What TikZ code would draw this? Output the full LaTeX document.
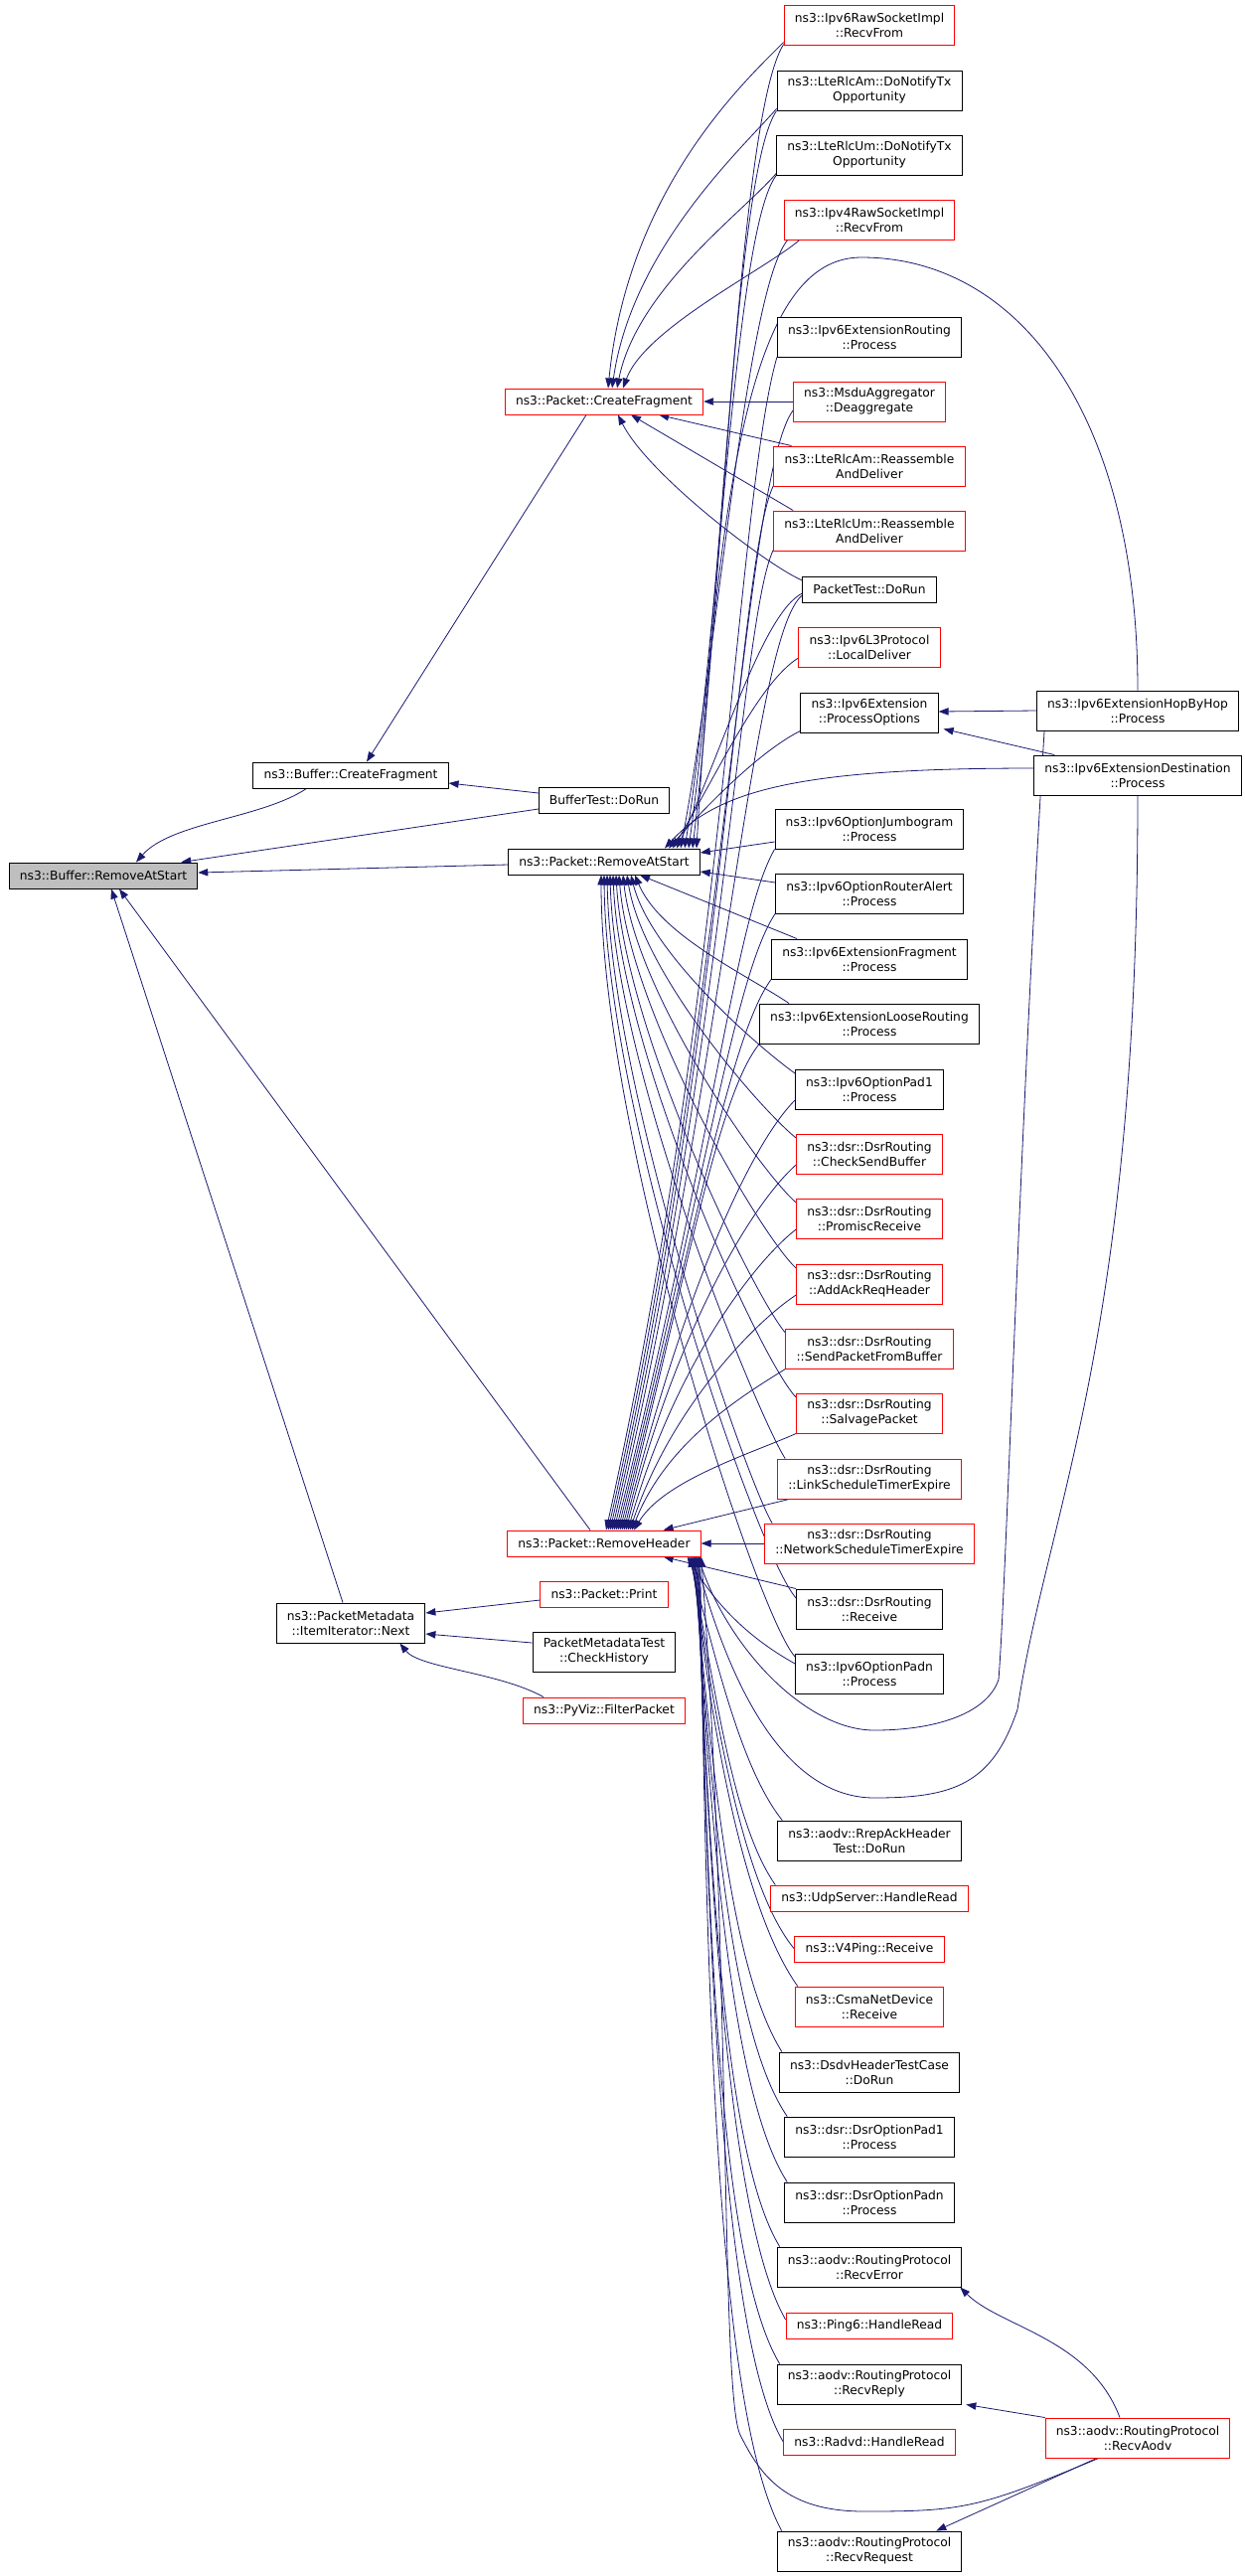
\documentclass[tikz,border=0pt]{standalone}
\usepackage{fontspec}
\setmainfont{DejaVu Sans}
\usepackage{xcolor}
\usetikzlibrary{calc,arrows.meta}

\definecolor{edgeblue}{HTML}{191970}
\definecolor{rootgrey}{HTML}{BFBFBF}

\pgfdeclarelayer{background}
\pgfsetlayers{background,main}

\tikzset{
  fn/.style={draw=black, fill=white, rectangle, align=center, line width=0.7pt,
    font=\fontsize{9.2}{11.3}\selectfont, inner xsep=8pt, inner ysep=0pt, minimum height=19.5pt},
  fntwo/.style={fn, minimum height=30pt},
  fnred/.style={draw=red},
  fnroot/.style={fill=rootgrey},
  call/.style={draw=edgeblue, line width=0.6pt, -{Triangle[length=7.5pt,width=5.5pt]}}
}

\begin{document}
\begin{tikzpicture}[x=0.75pt,y=-0.75pt]
        \useasboundingbox (0,0) rectangle (1253,2592);

        % left and middle
        \node[fn,fnroot] (bufRAS) at (104,881) {ns3::Buffer::RemoveAtStart};
        \node[fn] (bufCF) at (353,780) {ns3::Buffer::CreateFragment};
        \node[fntwo] (itemNext) at (353,1633) {ns3::PacketMetadata\\::ItemIterator::Next};
        \node[fn,fnred] (pktCF) at (608,404) {ns3::Packet::CreateFragment};
        \node[fn] (bufTest) at (608,805) {BufferTest::DoRun};
        \node[fn] (pktRAS) at (608,867) {ns3::Packet::RemoveAtStart};
        \node[fn,fnred] (pktRH) at (608,1553) {ns3::Packet::RemoveHeader};
        \node[fn,fnred] (pktPrint) at (608,1604) {ns3::Packet::Print};
        \node[fntwo] (metaTest) at (608,1662) {PacketMetadataTest\\::CheckHistory};
        \node[fn,fnred] (pyviz) at (608,1721) {ns3::PyViz::FilterPacket};

        % right column
        \node[fntwo,fnred] (raw6) at (875,25) {ns3::Ipv6RawSocketImpl\\::RecvFrom};
        \node[fntwo] (amNotify) at (875,91) {ns3::LteRlcAm::DoNotifyTx\\Opportunity};
        \node[fntwo] (umNotify) at (875,156) {ns3::LteRlcUm::DoNotifyTx\\Opportunity};
        \node[fntwo,fnred] (raw4) at (875,221) {ns3::Ipv4RawSocketImpl\\::RecvFrom};
        \node[fntwo] (extRouting) at (875,339) {ns3::Ipv6ExtensionRouting\\::Process};
        \node[fntwo,fnred] (msdu) at (875,404) {ns3::MsduAggregator\\::Deaggregate};
        \node[fntwo,fnred] (amReasm) at (875,469) {ns3::LteRlcAm::Reassemble\\AndDeliver};
        \node[fntwo,fnred] (umReasm) at (875,534) {ns3::LteRlcUm::Reassemble\\AndDeliver};
        \node[fn] (pktTest) at (875,593) {PacketTest::DoRun};
        \node[fntwo,fnred] (localDeliver) at (875,651) {ns3::Ipv6L3Protocol\\::LocalDeliver};
        \node[fntwo] (procOpt) at (875,717) {ns3::Ipv6Extension\\::ProcessOptions};
        \node[fntwo] (jumbo) at (875,834) {ns3::Ipv6OptionJumbogram\\::Process};
        \node[fntwo] (routerAlert) at (875,899) {ns3::Ipv6OptionRouterAlert\\::Process};
        \node[fntwo] (extFrag) at (875,965) {ns3::Ipv6ExtensionFragment\\::Process};
        \node[fntwo] (looseRouting) at (875,1030) {ns3::Ipv6ExtensionLooseRouting\\::Process};
        \node[fntwo] (pad1) at (875,1096) {ns3::Ipv6OptionPad1\\::Process};
        \node[fntwo,fnred] (checkSend) at (875,1161) {ns3::dsr::DsrRouting\\::CheckSendBuffer};
        \node[fntwo,fnred] (promisc) at (875,1226) {ns3::dsr::DsrRouting\\::PromiscReceive};
        \node[fntwo,fnred] (addAck) at (875,1292) {ns3::dsr::DsrRouting\\::AddAckReqHeader};
        \node[fntwo,fnred] (sendFromBuf) at (875,1357) {ns3::dsr::DsrRouting\\::SendPacketFromBuffer};
        \node[fntwo,fnred] (salvage) at (875,1422) {ns3::dsr::DsrRouting\\::SalvagePacket};
        \node[fntwo,fnred] (linkTimer) at (875,1488) {ns3::dsr::DsrRouting\\::LinkScheduleTimerExpire};
        \node[fntwo,fnred] (netTimer) at (875,1553) {ns3::dsr::DsrRouting\\::NetworkScheduleTimerExpire};
        \node[fntwo] (dsrRecv) at (875,1619) {ns3::dsr::DsrRouting\\::Receive};
        \node[fntwo] (padn) at (875,1684) {ns3::Ipv6OptionPadn\\::Process};
        \node[fntwo] (rrepAck) at (875,1852) {ns3::aodv::RrepAckHeader\\Test::DoRun};
        \node[fn,fnred] (udpServer) at (875,1910) {ns3::UdpServer::HandleRead};
        \node[fn,fnred] (v4ping) at (875,1961) {ns3::V4Ping::Receive};
        \node[fntwo,fnred] (csma) at (875,2019) {ns3::CsmaNetDevice\\::Receive};
        \node[fntwo] (dsdv) at (875,2085) {ns3::DsdvHeaderTestCase\\::DoRun};
        \node[fntwo] (dsrPad1) at (875,2150) {ns3::dsr::DsrOptionPad1\\::Process};
        \node[fntwo] (dsrPadn) at (875,2216) {ns3::dsr::DsrOptionPadn\\::Process};
        \node[fntwo] (recvError) at (875,2281) {ns3::aodv::RoutingProtocol\\::RecvError};
        \node[fn,fnred] (ping6) at (875,2340) {ns3::Ping6::HandleRead};
        \node[fntwo] (recvReply) at (875,2399) {ns3::aodv::RoutingProtocol\\::RecvReply};
        \node[fn,fnred] (radvd) at (875,2457) {ns3::Radvd::HandleRead};
        \node[fntwo] (recvRequest) at (875,2567) {ns3::aodv::RoutingProtocol\\::RecvRequest};

        % far right
        \node[fntwo] (hopByHop) at (1145,715) {ns3::Ipv6ExtensionHopByHop\\::Process};
        \node[fntwo] (destination) at (1145,780) {ns3::Ipv6ExtensionDestination\\::Process};
        \node[fntwo,fnred] (recvAodv) at (1145,2453) {ns3::aodv::RoutingProtocol\\::RecvAodv};

        \begin{pgfonlayer}{background}
        % into the buffer
        \draw[call] ($(bufCF.south west)+(54,0)$) .. controls +(-45,30) and +(35,-40) .. ($(bufRAS.north)+(33,0)$);
        \draw[call] ($(bufTest.west)+(0,9)$) -- ($(bufRAS.north east)+(-17,0)$);
        \draw[call] ($(bufTest.west)+(0,-7)$) -- ($(bufCF.east)+(0,8)$);
        \draw[call] ($(pktRAS.west)+(0,3)$) -- ($(bufRAS.east)+(0,-3)$);
        \draw[call] ($(pktCF.south)+(-18,0)$) -- ($(bufCF.north)+(16,0)$);
        \draw[call] ($(pktRH.north)+(-14,0)$) -- ($(bufRAS.south)+(16,0)$);
        \draw[call] ($(itemNext.north)+(-8,0)$) -- ($(bufRAS.south)+(8,0)$);
        \draw[call] ($(pktPrint.west)+(0,6)$) -- ($(itemNext.east)+(0,-10)$);
        \draw[call] ($(metaTest.west)+(0,-9)$) -- ($(itemNext.east)+(0,11)$);
        \draw[call] ($(pyviz.north west)+(21,0)$) .. controls +(-45,-25) and +(20,25) .. ($(itemNext.south east)+(-26,0)$);

        % into Packet::CreateFragment
        \draw[call] ($(raw6.south west)+(0,-3)$) .. controls +(-40,40) and +(20,-200) .. ($(pktCF.north)+(4,0)$);
        \draw[call] ($(amNotify.south west)+(0,-2)$) .. controls +(-35,40) and +(20,-140) .. ($(pktCF.north)+(8,0)$);
        \draw[call] ($(umNotify.south west)+(0,-2)$) .. controls +(-32,38) and +(20,-100) .. ($(pktCF.north)+(13,0)$);
        \draw[call] ($(raw4.south west)+(16,0)$) .. controls +(-35,30) and +(22,-60) .. ($(pktCF.north)+(19,0)$);
        \draw[call] (msdu.west) -- (pktCF.east);
        \draw[call] ($(amReasm.north west)+(18,0)$) -- ($(pktCF.south east)+(-45,0)$);
        \draw[call] ($(umReasm.north west)+(20,0)$) -- ($(pktCF.south)+(27,0)$);
        \draw[call] ($(pktTest.west)+(0,-9)$) .. controls +(-35,-15) and +(30,60) .. ($(pktCF.south)+(14,0)$);

        % into Packet::RemoveAtStart from above
        \draw[call] ($(raw6.south west)+(0,-1)$) .. controls +(-45,70) and +(30,-255) .. ($(pktRAS.north)+(89,0)$);
        \draw[call] (amNotify.south west) .. controls +(-42,60) and +(33,-235) .. ($(pktRAS.north)+(85,0)$);
        \draw[call] (umNotify.south west) .. controls +(-42,55) and +(35,-215) .. ($(pktRAS.north)+(81,0)$);
        \draw[call] ($(raw4.south west)+(4,0)$) .. controls +(-42,50) and +(37,-195) .. ($(pktRAS.north)+(77,0)$);
        \draw[call] ($(pktTest.west)+(0,4)$) .. controls +(-40,20) and +(45,-95) .. ($(pktRAS.north)+(73,0)$);
        \draw[call] ($(localDeliver.west)+(0,11)$) .. controls +(-40,25) and +(45,-75) .. ($(pktRAS.north)+(69,0)$);
        \draw[call] ($(procOpt.south west)+(0,-2)$) .. controls +(-40,20) and +(40,-45) .. ($(pktRAS.north)+(65,0)$);
        \draw[call] (hopByHop.north) .. controls +(0,-275) and +(160,0) .. (867,259) .. controls +(-95,0) and +(25,-435) .. ($(pktRAS.north)+(93,0)$);
        \draw[call] ($(destination.west)+(0,-7)$) .. controls +(-230,0) and +(55,-60) .. ($(pktRAS.north)+(61,0)$);
        \draw[call] ($(jumbo.west)+(0,13)$) -- ($(pktRAS.east)+(0,-9)$);
        \draw[call] ($(routerAlert.west)+(0,-11)$) -- ($(pktRAS.east)+(0,10)$);

        % into Packet::RemoveAtStart from below
        \draw[call] ($(extFrag.north west)+(26,0)$) -- ($(pktRAS.south)+(36,0)$);
        \draw[call] ($(looseRouting.north west)+(30,0)$) .. controls +(-45,-30) and +(25,60) .. ($(pktRAS.south)+(31,0)$);
        \draw[call] ($(pad1.west)+(0,-16)$) .. controls +(-35,-25) and +(20,80) .. ($(pktRAS.south)+(27,0)$);
        \draw[call] ($(checkSend.west)+(0,-16)$) .. controls +(-35,-28) and +(16,100) .. ($(pktRAS.south)+(23,0)$);
        \draw[call] ($(promisc.west)+(0,-16)$) .. controls +(-35,-30) and +(13,120) .. ($(pktRAS.south)+(19,0)$);
        \draw[call] ($(addAck.west)+(0,-16)$) .. controls +(-35,-32) and +(11,140) .. ($(pktRAS.south)+(15,0)$);
        \draw[call] ($(sendFromBuf.west)+(0,-16)$) .. controls +(-30,-34) and +(9,160) .. ($(pktRAS.south)+(12,0)$);
        \draw[call] ($(salvage.west)+(0,-16)$) .. controls +(-35,-36) and +(7,180) .. ($(pktRAS.south)+(9,0)$);
        \draw[call] ($(linkTimer.north west)+(8,0)$) .. controls +(-25,-38) and +(5,200) .. ($(pktRAS.south)+(6,0)$);
        \draw[call] ($(netTimer.north west)+(8,0)$) .. controls +(-25,-40) and +(4,220) .. ($(pktRAS.south)+(3,0)$);
        \draw[call] ($(dsrRecv.west)+(0,-11)$) .. controls +(-40,-45) and +(2,240) .. (pktRAS.south);
        \draw[call] ($(padn.west)+(0,-17)$) .. controls +(-40,-45) and +(0,260) .. ($(pktRAS.south)+(-3,0)$);

        % into Packet::RemoveHeader from above
        \draw[call] (extRouting.south west) .. controls +(-40,140) and +(120,-540) .. ($(pktRH.north)+(2,0)$);
        \draw[call] ($(msdu.west)+(0,9)$) .. controls +(-50,70) and +(118,-520) .. ($(pktRH.north)+(4,0)$);
        \draw[call] ($(amReasm.south west)+(0,-1)$) .. controls +(-35,70) and +(115,-500) .. ($(pktRH.north)+(6,0)$);
        \draw[call] ($(umReasm.south west)+(0,-1)$) .. controls +(-33,70) and +(112,-480) .. ($(pktRH.north)+(8,0)$);
        \draw[call] ($(pktTest.west)+(0,6)$) .. controls +(-50,40) and +(110,-460) .. ($(pktRH.north)+(10,0)$);
        \draw[call] (jumbo.south west) .. controls +(-40,70) and +(100,-400) .. ($(pktRH.north)+(12,0)$);
        \draw[call] (routerAlert.south west) .. controls +(-40,60) and +(90,-360) .. ($(pktRH.north)+(14,0)$);
        \draw[call] (extFrag.south west) .. controls +(-40,55) and +(80,-320) .. ($(pktRH.north)+(16,0)$);
        \draw[call] (looseRouting.south west) .. controls +(-40,50) and +(70,-280) .. ($(pktRH.north)+(18,0)$);
        \draw[call] ($(pad1.west)+(0,11)$) .. controls +(-45,45) and +(60,-240) .. ($(pktRH.north)+(20,0)$);
        \draw[call] ($(checkSend.west)+(0,11)$) .. controls +(-45,40) and +(50,-200) .. ($(pktRH.north)+(22,0)$);
        \draw[call] ($(promisc.west)+(0,11)$) .. controls +(-45,35) and +(45,-160) .. ($(pktRH.north)+(24,0)$);
        \draw[call] ($(addAck.west)+(0,11)$) .. controls +(-45,30) and +(40,-120) .. ($(pktRH.north)+(26,0)$);
        \draw[call] (sendFromBuf.south west) .. controls +(-40,25) and +(35,-90) .. ($(pktRH.north)+(28,0)$);
        \draw[call] (salvage.south west) .. controls +(-45,20) and +(30,-50) .. ($(pktRH.north)+(30,0)$);
        \draw[call] ($(linkTimer.south west)+(12,0)$) -- ($(pktRH.north east)+(-38,0)$);
        \draw[call] (netTimer.west) -- (pktRH.east);

        % into Packet::RemoveHeader from below
        \draw[call] (dsrRecv.north west) -- ($(pktRH.south east)+(-38,0)$);
        \draw[call] ($(padn.west)+(0,-10)$) .. controls +(-45,-25) and +(30,50) .. ($(pktRH.south east)+(-14,0)$);
        \draw[call] ($(rrepAck.north west)+(5,0)$) .. controls +(-40,-50) and +(28,110) .. ($(pktRH.south east)+(-12,0)$);
        \draw[call] ($(udpServer.north west)+(5,0)$) .. controls +(-42,-60) and +(26,140) .. ($(pktRH.south east)+(-11,0)$);
        \draw[call] (v4ping.west) .. controls +(-50,-60) and +(24,170) .. ($(pktRH.south east)+(-10,0)$);
        \draw[call] ($(csma.north west)+(3,0)$) .. controls +(-50,-70) and +(22,200) .. ($(pktRH.south east)+(-9,0)$);
        \draw[call] ($(dsdv.north west)+(3,0)$) .. controls +(-50,-80) and +(20,230) .. ($(pktRH.south east)+(-8,0)$);
        \draw[call] ($(dsrPad1.north west)+(3,0)$) .. controls +(-55,-80) and +(18,260) .. ($(pktRH.south east)+(-7,0)$);
        \draw[call] ($(dsrPadn.north west)+(3,0)$) .. controls +(-55,-85) and +(16,290) .. ($(pktRH.south east)+(-6,0)$);
        \draw[call] ($(recvError.north west)+(3,0)$) .. controls +(-55,-90) and +(14,320) .. ($(pktRH.south east)+(-5,0)$);
        \draw[call] ($(ping6.west)+(0,-6)$) .. controls +(-55,-95) and +(12,350) .. ($(pktRH.south east)+(-4,0)$);
        \draw[call] ($(recvReply.north west)+(3,0)$) .. controls +(-60,-100) and +(10,380) .. ($(pktRH.south east)+(-3,0)$);
        \draw[call] (radvd.west) .. controls +(-60,-100) and +(8,400) .. ($(pktRH.south east)+(-2,0)$);
        \draw[call] ($(recvRequest.north west)+(5,0)$) .. controls +(-65,-120) and +(6,440) .. ($(pktRH.south east)+(-1,0)$);
        \draw[call] ($(recvAodv.south west)+(54,0)$) .. controls +(-120,50) and +(100,0) .. (870,2527) .. controls +(-80,0) and +(20,40) .. (745,2450) .. controls +(-20,-40) and +(30,400) .. (pktRH.south east);
        \draw[call] ($(hopByHop.south west)+(8,0)$) .. controls +(-25,400) and +(8,-100) .. (1005,1690) .. controls +(-12,35) and +(60,0) .. (880,1741) .. controls +(-70,0) and +(30,90) .. ($(pktRH.south east)+(-3,0)$);
        \draw[call] (destination.south) .. controls +(0,550) and +(30,-200) .. (1024,1720) .. controls +(-25,75) and +(80,0) .. (880,1809) .. controls +(-90,0) and +(35,130) .. ($(pktRH.south east)+(-6,0)$);

        % between the callers
        \draw[call] (hopByHop.west) -- ($(procOpt.east)+(0,-1)$);
        \draw[call] ($(destination.north west)+(21,0)$) -- ($(procOpt.south east)+(5,-4)$);
        \draw[call] ($(recvAodv.north)+(-18,0)$) .. controls +(-30,-80) and +(40,40) .. ($(recvError.south east)+(-2,0)$);
        \draw[call] (recvAodv.north west) -- ($(recvReply.south east)+(4,0)$);
        \draw[call] ($(recvAodv.south west)+(52,0)$) -- ($(recvRequest.north east)+(-26,0)$);
        \end{pgfonlayer}
    \end{tikzpicture}
\end{document}
